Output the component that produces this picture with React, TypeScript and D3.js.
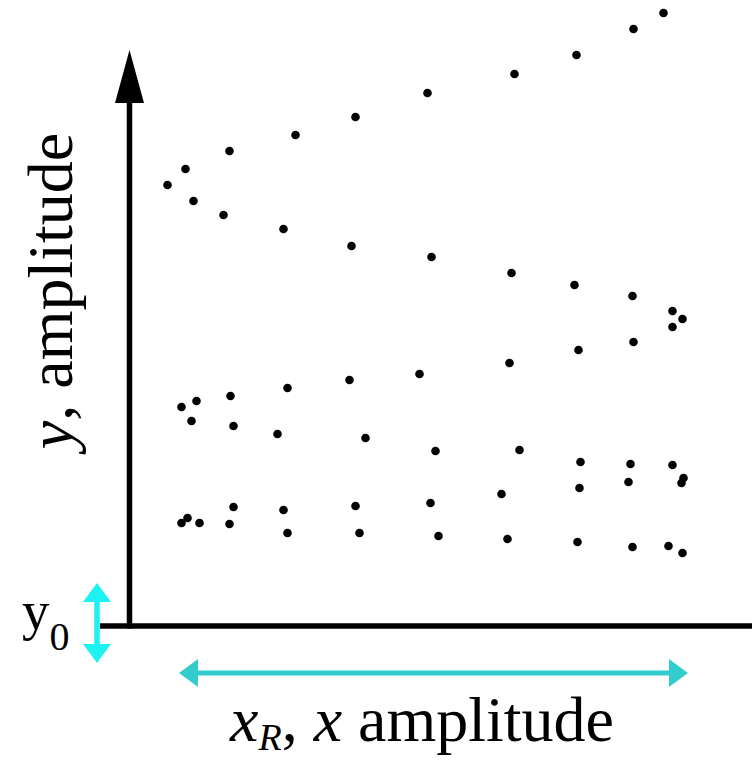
import React from "react";
import * as d3 from "d3";

// Data (x, y in amplitude units from the origin)
const seriesUpperRising: [number, number][] = [
  [38, 441], [56, 457], [100, 475], [166, 491], [226, 509], [298, 533],
  [385, 552], [447, 571], [504, 597], [534, 613],
];
const seriesUpperFalling: [number, number][] = [
  [64, 425], [94, 411], [154, 397], [222, 380], [302, 369], [382, 353],
  [445, 341], [503, 330], [543, 315], [553, 307], [543, 299],
];
const seriesMiddleRising: [number, number][] = [
  [52, 219], [67, 225], [101, 230], [158, 238], [220, 246], [290, 252],
  [380, 263], [449, 276], [504, 284],
];
const seriesMiddleFalling: [number, number][] = [
  [62, 205], [104, 200], [148, 192], [236, 188], [306, 175], [390, 176],
  [451, 164], [501, 162], [543, 161], [554, 148], [552, 143],
];
const seriesLowerRising: [number, number][] = [
  [58, 108], [104, 119], [154, 116], [226, 120], [301, 123], [372, 132],
  [450, 138], [499, 144],
];
const seriesLowerFlat: [number, number][] = [
  [52, 103], [70, 103], [100, 102], [158, 93], [230, 93], [309, 90],
  [378, 87], [448, 84], [503, 79], [539, 80], [553, 73],
];

const allSeries = [
  seriesUpperRising,
  seriesUpperFalling,
  seriesMiddleRising,
  seriesMiddleFalling,
  seriesLowerRising,
  seriesLowerFlat,
];

const xLabelMain = "x";
const xLabelSub = "R";
const xLabelRest = "amplitude";
const yLabelVar = "y";
const yLabelRest = ", amplitude";
const y0Main = "y";
const y0Sub = "0";

const W = 755;
const H = 760;
const X0 = 129.5;
const Y0 = 626;
const FONT = "'Liberation Serif', 'Times New Roman', serif";

export default function App() {
  const x = d3.scaleLinear().domain([0, 626]).range([X0, 755.5]);
  const y = d3.scaleLinear().domain([0, 576]).range([Y0, 50]);

  const yTop = 103;
  const cyanV = "#1cf2f2";
  const teal = "#33cccc";

  return (
    <svg
      width={W}
      height={H}
      style={{ position: "absolute", left: 0, top: 0, display: "block", background: "#fff" }}
      fontFamily={FONT}
    >
      <rect x={0} y={0} width={W} height={H} fill="#fff" />
      {/* axes */}
      <line x1={X0} y1={Y0 + 2.5} x2={X0} y2={yTop} stroke="#000" strokeWidth={5.5} />
      <polygon points={`${X0},50 ${X0 - 14.5},${yTop} ${X0 + 14.5},${yTop}`} fill="#000" />
      <line x1={100} y1={Y0} x2={752} y2={Y0} stroke="#000" strokeWidth={5.5} />

      {/* dots */}
      {allSeries.map((s, i) =>
        s.map((d, j) => (
          <circle key={`${i}-${j}`} cx={x(d[0])} cy={y(d[1])} r={4.3} fill="#000" />
        ))
      )}

      {/* y0 vertical arrow */}
      <line x1={97} y1={600} x2={97} y2={646} stroke={cyanV} strokeWidth={5.5} />
      <polygon points={`97,583 83,602 111,602`} fill={cyanV} />
      <polygon points={`97,663 83,644 111,644`} fill={cyanV} />

      {/* horizontal x_R arrow */}
      <line x1={196} y1={673} x2={671} y2={673} stroke={teal} strokeWidth={5} />
      <polygon points={`179,673 198,659 198,687`} fill={teal} />
      <polygon points={`688,673 669,659 669,687`} fill={teal} />

      {/* y0 label */}
      <text x={22} y={629} fontSize={55} fill="#000">
        {y0Main}
        <tspan fontSize={40} dy={21}>{y0Sub}</tspan>
      </text>

      {/* x label */}
      <text x={230} y={741} fontSize={64} fill="#000">
        <tspan fontStyle="italic">{xLabelMain}</tspan>
        <tspan fontStyle="italic" fontSize={38} dy={9}>{xLabelSub}</tspan>
        <tspan dy={-9}>, </tspan>
        <tspan fontStyle="italic">{xLabelMain}</tspan>
        <tspan>{" " + xLabelRest}</tspan>
      </text>

      {/* y label */}
      <text
        transform="translate(72, 291) rotate(-90)"
        textAnchor="middle"
        fontSize={64}
        fill="#000"
      >
        <tspan fontStyle="italic">{yLabelVar}</tspan>
        <tspan>{yLabelRest}</tspan>
      </text>
    </svg>
  );
}
